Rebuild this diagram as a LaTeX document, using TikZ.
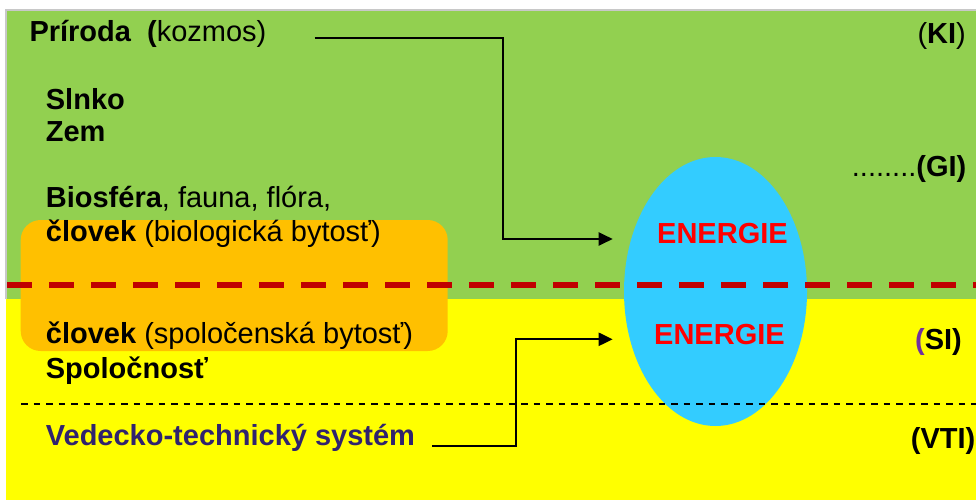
\documentclass[tikz,border=0pt]{standalone}
\usepackage{fontspec}
\setmainfont{Liberation Sans}
\usetikzlibrary{arrows.meta,shapes.geometric}
\definecolor{bggreen}{HTML}{92D050}
\definecolor{bgyellow}{HTML}{FFFF00}
\definecolor{boxorange}{HTML}{FFC000}
\definecolor{ellblue}{HTML}{33CCFF}
\definecolor{dashred}{HTML}{C00000}
\definecolor{vtsblue}{RGB}{48,35,110}
\definecolor{sipurple}{HTML}{7030A0}
\definecolor{edgegray}{RGB}{200,200,200}
\begin{document}
\begin{tikzpicture}[x=1pt,y=-1pt,
  txt/.style={inner sep=0pt, anchor=base west, font=\fontsize{29}{34}\selectfont},
  rtxt/.style={txt, anchor=base east},
  entxt/.style={txt, font=\fontsize{29}{34}\selectfont\bfseries, text=red},
  conn/.style={line width=2.2pt, -{Triangle[length=14pt,width=13pt]}}]
\useasboundingbox (0,0) rectangle (976,500);
\fill[white] (0,0) rectangle (976,500);
% backgrounds
\fill[bggreen] (6,10) rectangle (976,299);
\fill[bgyellow] (6,299) rectangle (976,500);
\draw[edgegray, line width=1.5pt] (6,299) -- (6,10) -- (976,10);
% orange box
\fill[boxorange, rounded corners=20pt] (20.7,220) rectangle (447.7,351);
% ellipse
\node (ell) [ellipse, fill=ellblue, minimum width=183pt, minimum height=269pt, inner sep=0pt] at (715.5,291.5) {};
% dividing lines
\draw[dashred, line width=6pt, dash pattern=on 25pt off 17pt] (7,285) -- (976,285);
\draw[black, line width=1.8pt, dash pattern=on 6.5pt off 6pt] (21,404) -- (976,404);
% left texts
\node[txt] (prir) at (29.3,41.7) {\textbf{Príroda\ \ (}kozmos)};
\node[txt] (slnko) at (45.7,110) {\textbf{Slnko}};
\node[txt] (zem) at (45.7,141.7) {\textbf{Zem}};
\node[txt] (bio) at (45.7,207.3) {\textbf{Biosféra}, fauna, flóra,};
\node[txt] (clbio) at (45.7,241.7) {\textbf{človek} (biologická bytosť)};
\node[txt] (clspol) at (45.7,343.3) {\textbf{človek} (spoločenská bytosť)};
\node[txt] (spol) at (45.7,378.3) {\textbf{Spoločnosť}};
\node[txt, text=vtsblue] (vts) at (45.7,445.7) {\textbf{Vedecko-technický systém}};
% right texts
\node[rtxt] (ki) at (966,43.3) {(\textbf{KI})};
\node[rtxt] (gi) at (966.5,176.5) {........\textbf{(GI)}};
\node[rtxt] (si) at (962,349) {\textbf{\textcolor{sipurple}{(}SI)}};
\node[rtxt] (vti) at (975.5,448) {\textbf{(VTI)}};
% energie
\node[entxt] (en1) at (657,243) {ENERGIE};
\node[entxt] (en2) at (654,344) {ENERGIE};
% arrows
\coordinate (s1) at (314.7,38.3);
\coordinate (b1) at (503.3,38.3);
\coordinate (c1) at (503.3,239);
\coordinate (t1) at (612.7,239);
\draw[conn] (s1) -- (b1) -- (c1) -- (t1);
\coordinate (s2) at (432,446);
\coordinate (b2) at (516.3,446);
\coordinate (c2) at (516.3,339.3);
\coordinate (t2) at (612.7,339.3);
\draw[conn] (s2) -- (b2) -- (c2) -- (t2);
\end{tikzpicture}
\end{document}
